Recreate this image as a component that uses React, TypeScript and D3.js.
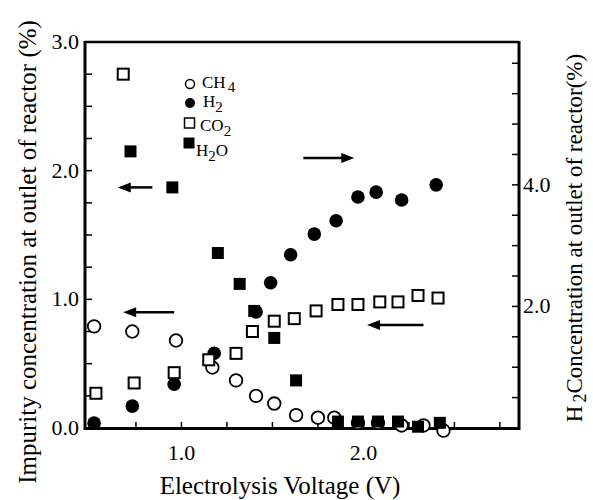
import React from 'react';
import * as d3 from 'd3';

// electrolysis voltage (V) / concentration
const ch4V = [0.52, 0.73, 0.97, 1.17, 1.3, 1.41, 1.51, 1.63, 1.75, 1.84, 1.97, 2.08, 2.21, 2.33, 2.44];
const ch4C = [0.79, 0.75, 0.68, 0.47, 0.37, 0.25, 0.19, 0.1, 0.08, 0.08, 0.04, 0.04, 0.02, 0.02, -0.02];

const h2V = [0.52, 0.73, 0.96, 1.18, 1.41, 1.49, 1.6, 1.73, 1.85, 1.97, 2.07, 2.21, 2.4];
const h2C = [0.08, 0.36, 0.72, 1.23, 1.91, 2.39, 2.85, 3.19, 3.41, 3.8, 3.88, 3.75, 4.0];

const co2V = [0.53, 0.68, 0.74, 0.96, 1.15, 1.3, 1.39, 1.51, 1.62, 1.74, 1.86, 1.97, 2.09, 2.19, 2.3, 2.41];
const co2C = [0.27, 2.75, 0.35, 0.43, 0.53, 0.58, 0.75, 0.83, 0.85, 0.91, 0.96, 0.96, 0.98, 0.98, 1.03, 1.01];

const h2oV = [0.72, 0.95, 1.2, 1.32, 1.4, 1.51, 1.63, 1.86, 1.97, 2.08, 2.19, 2.3, 2.42];
const h2oC = [2.15, 1.87, 1.36, 1.12, 0.91, 0.7, 0.37, 0.05, 0.05, 0.05, 0.05, 0.01, 0.04];

const xLabels = [1, 2];
const leftLabels = [0, 1, 2, 3];
const rightLabels = [2, 4];

// arrows: [x from, x to, y] in data units
const arrowsLeft = [
  [0.84, 0.65, 1.87],
  [0.96, 0.68, 0.9],
  [2.33, 2.02, 0.8],
];
const arrowsRight = [[1.67, 1.95, 4.44]];

const W = 593, H = 500;
const font = '"Liberation Serif", "Times New Roman", serif';

export default function App() {
  const x = d3.scaleLinear().domain([0.47, 2.855]).range([85, 519]);
  const yL = d3.scaleLinear().domain([0, 3]).range([428, 42]);
  const yR = d3.scaleLinear().domain([0, 6.35]).range([428, 42]);

  const xTicks = d3.range(0.5, 2.85, 0.25);
  const lTicks = d3.range(0.25, 3, 0.25);
  const rTicks = d3.range(0.5, 6.3, 0.5);

  const arrow = (x1: number, x2: number, yy: number, key: string) => {
    const dir = x2 > x1 ? 1 : -1;
    const px1 = x(x1), px2 = x(x2);
    return (
      <g key={key}>
        <line x1={px1} x2={px2 - dir * 8} y1={yy} y2={yy} stroke="#000" strokeWidth={2.5} />
        <path d={`M${px2},${yy} L${px2 - dir * 13},${yy - 5} L${px2 - dir * 13},${yy + 5} Z`} fill="#000" />
      </g>
    );
  };

  return (
    <svg width={W} height={H} style={{ position: 'absolute', left: 0, top: 0 }} fontFamily={font}>
      <rect width={W} height={H} fill="#fff" />

      {/* frame */}
      <line x1={85} x2={519} y1={42} y2={42} stroke="#000" strokeWidth={2.5} />
      <line x1={85} x2={85} y1={41} y2={430} stroke="#000" strokeWidth={3} />
      <line x1={519} x2={519} y1={41} y2={430} stroke="#000" strokeWidth={3} />
      <line x1={84} x2={520} y1={428.5} y2={428.5} stroke="#000" strokeWidth={3} />

      {xTicks.map((t, i) => (
        <line key={'xt' + i} x1={x(t)} x2={x(t)} y1={428} y2={422} stroke="#000" strokeWidth={1.5} />
      ))}
      {lTicks.map((t, i) => (
        <line key={'lt' + i} x1={85} x2={92} y1={yL(t)} y2={yL(t)} stroke="#000" strokeWidth={1.5} />
      ))}
      {rTicks.map((t, i) => (
        <line key={'rt' + i} x1={512} x2={519} y1={yR(t)} y2={yR(t)} stroke="#000" strokeWidth={1.5} />
      ))}

      {xLabels.map((t) => (
        <text key={'xl' + t} x={x(t)} y={460} fontSize={22} textAnchor="middle">{t.toFixed(1)}</text>
      ))}
      {leftLabels.map((t) => (
        <text key={'ll' + t} x={79} y={yL(t) + 7} fontSize={22} textAnchor="end">{t.toFixed(1)}</text>
      ))}
      {rightLabels.map((t) => (
        <text key={'rl' + t} x={523} y={yR(t) + 7} fontSize={22} textAnchor="start">{t.toFixed(1)}</text>
      ))}

      {/* axis titles */}
      <text x={280} y={494} fontSize={25} textAnchor="middle">Electrolysis Voltage (V)</text>
      <text transform="translate(36,252) rotate(-90)" fontSize={25} textAnchor="middle">
        Impurity concentration at outlet of reactor (%)
      </text>
      <text transform="translate(582,238) rotate(-90)" fontSize={23} textAnchor="middle">
        H<tspan fontSize={18} dy={4} dx={3}>2</tspan><tspan dy={-4}>Concentration at outlet of reactor(%)</tspan>
      </text>

      {/* data */}
      {ch4V.map((v, i) => (
        <circle key={'c' + i} cx={x(v)} cy={yL(ch4C[i])} r={6.3} fill="#fff" stroke="#000" strokeWidth={1.8} />
      ))}
      {h2V.map((v, i) => (
        <circle key={'h' + i} cx={x(v)} cy={yR(h2C[i])} r={6.8} fill="#000" />
      ))}
      {h2oV.map((v, i) => (
        <rect key={'w' + i} x={x(v) - 6} y={yL(h2oC[i]) - 6} width={12} height={12} fill="#000" />
      ))}
      {co2V.map((v, i) => (
        <rect key={'o' + i} x={x(v) - 5.5} y={yL(co2C[i]) - 5.5} width={11} height={11} fill="#fff" stroke="#000" strokeWidth={2} />
      ))}

      {arrowsLeft.map((a, i) => arrow(a[0], a[1], yL(a[2]), 'al' + i))}
      {arrowsRight.map((a, i) => arrow(a[0], a[1], yR(a[2]), 'ar' + i))}

      {/* legend */}
      <g fontSize={17}>
        <circle cx={190} cy={84} r={4.5} fill="#fff" stroke="#000" strokeWidth={1.5} />
        <text x={202} y={88}>CH<tspan fontSize={15} dy={4} dx={2}>4</tspan></text>
        <circle cx={190} cy={103} r={5} fill="#000" />
        <text x={203} y={107}>H<tspan fontSize={15} dy={5}>2</tspan></text>
        <rect x={184.5} y={118} width={10} height={10} fill="#fff" stroke="#000" strokeWidth={1.5} />
        <text x={200} y={131}>CO<tspan fontSize={15} dy={5}>2</tspan></text>
        <rect x={183.5} y={137.5} width={11} height={11} fill="#000" />
        <text x={196} y={156}>H<tspan fontSize={15} dy={5}>2</tspan><tspan dy={-5}>O</tspan></text>
      </g>
    </svg>
  );
}
